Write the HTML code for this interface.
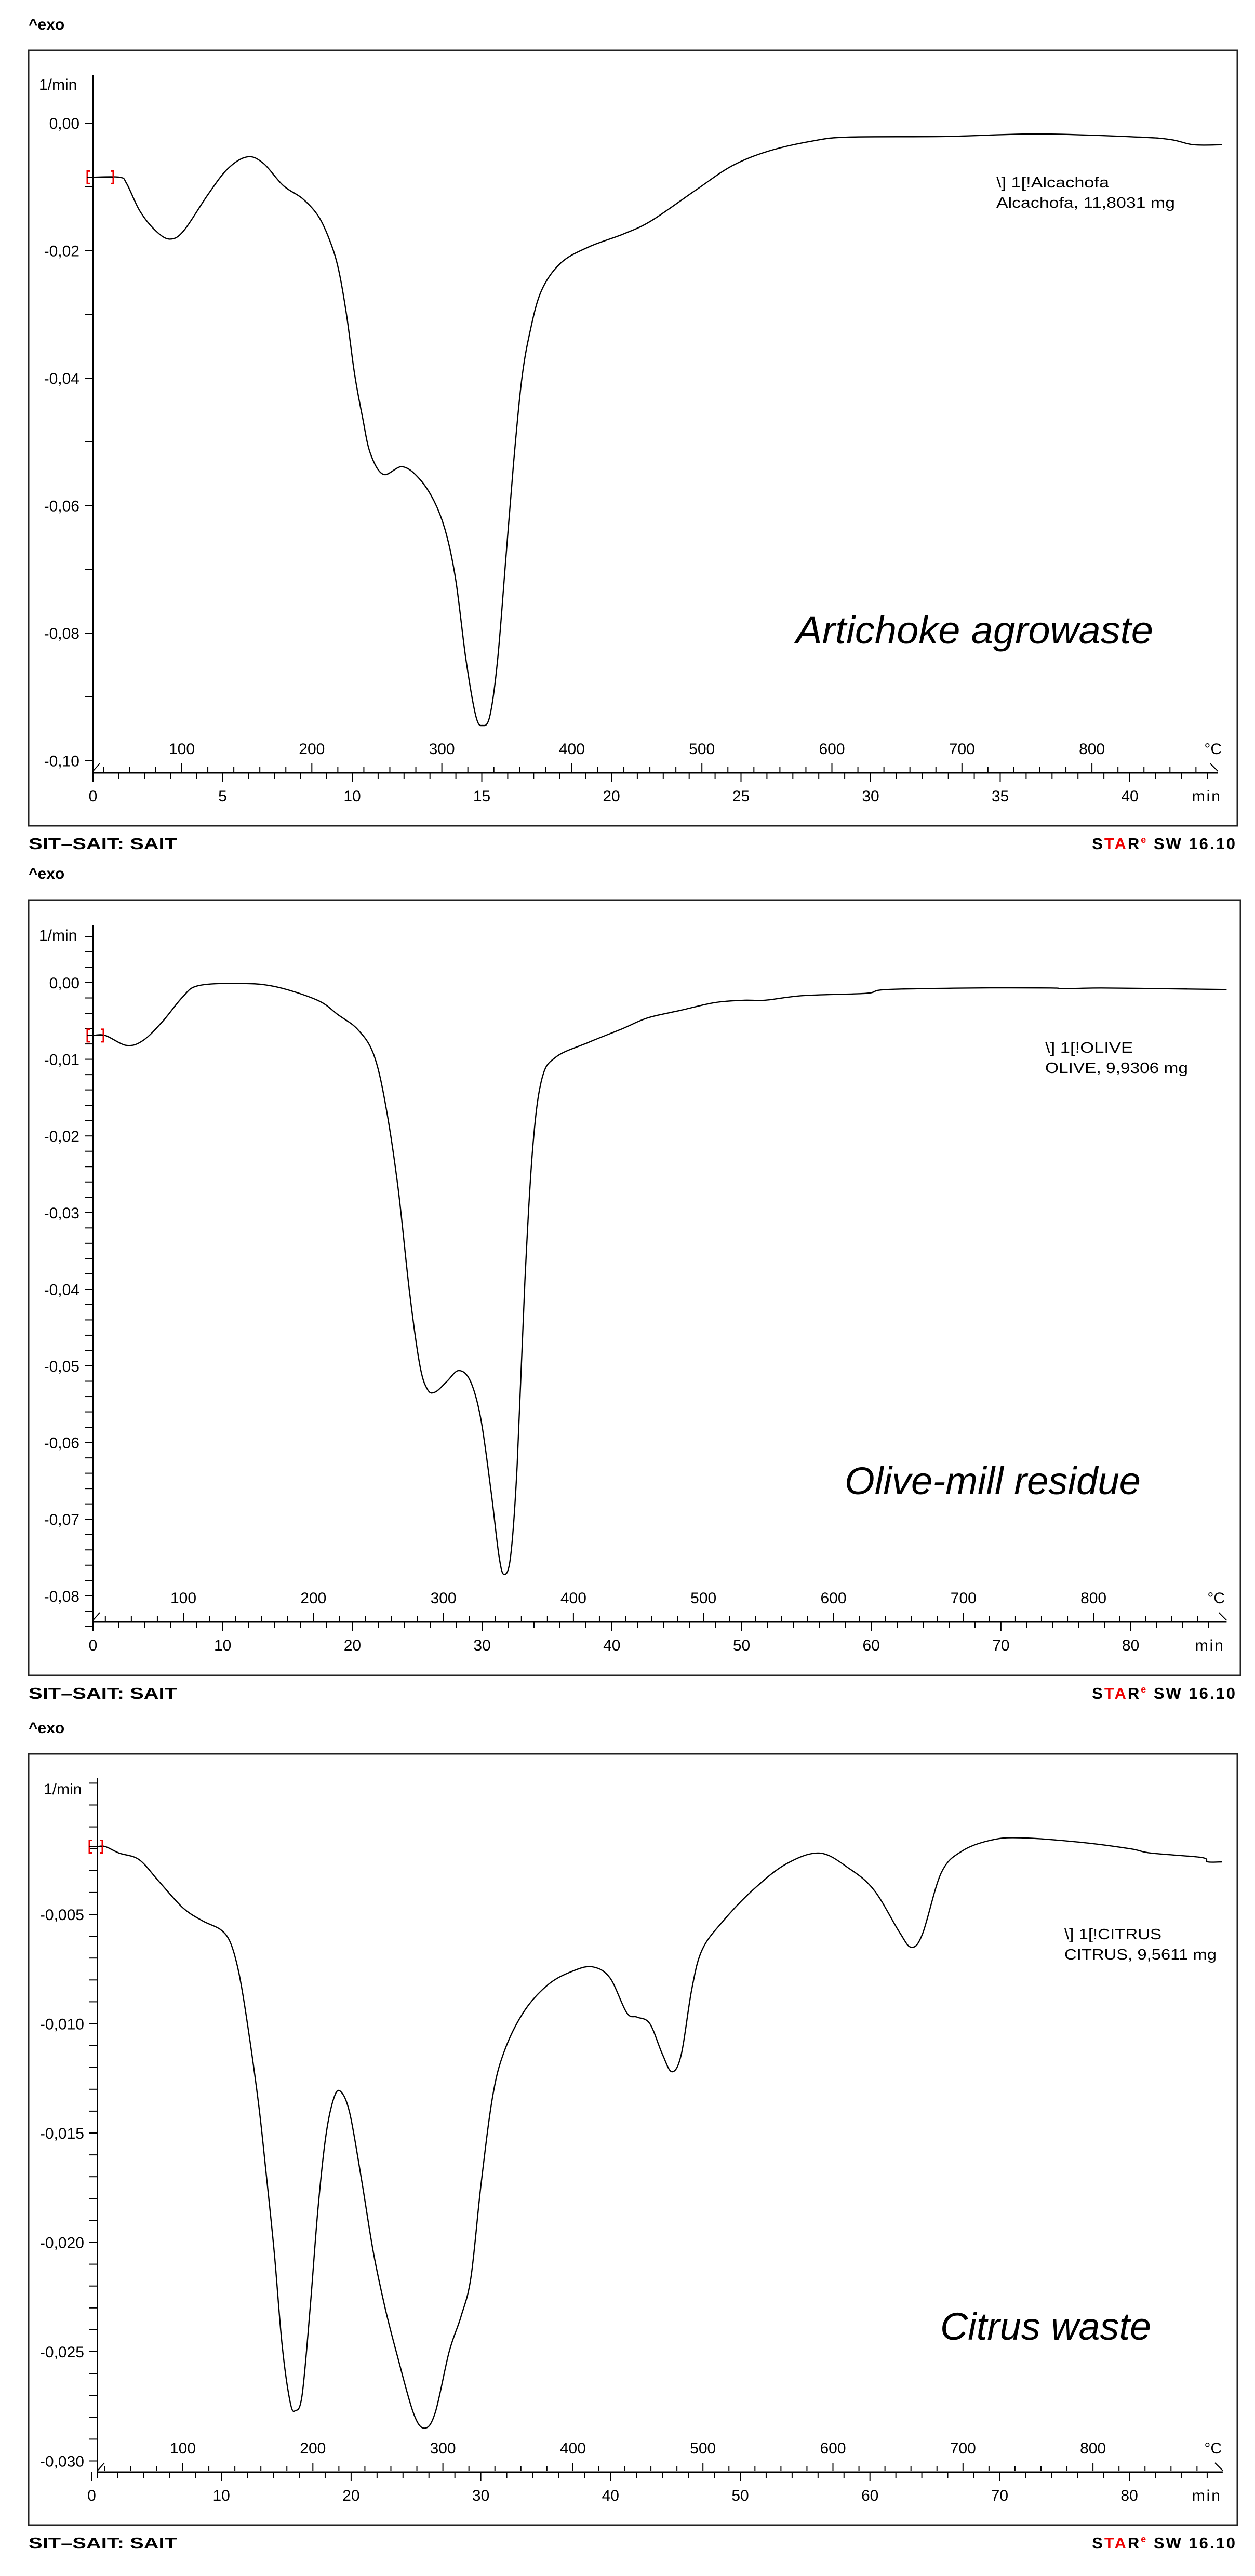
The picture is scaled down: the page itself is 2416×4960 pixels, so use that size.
<!DOCTYPE html>
<html><head><meta charset="utf-8"><title>DTG curves</title>
<style>
html,body{margin:0;padding:0;background:#fff;}
svg{display:block;font-family:"Liberation Sans",sans-serif;}
</style></head>
<body>
<svg id="root" xmlns="http://www.w3.org/2000/svg" width="2416" height="4960" viewBox="0 0 2416 4960"></svg>
<script>
// ---------- Panel 1: Artichoke agrowaste ----------
const p1Minutes = [0,1.03,1.30,1.81,2.42,2.96,3.50,4.42,5.19,5.95,6.57,7.34,8.10,8.71,9.17,9.48,9.78,10.09,10.40,10.70,11.20,11.92,12.55,13.16,13.62,14.00,14.39,14.77,15.03,15.31,15.61,15.92,16.23,16.53,16.84,17.30,18.06,19.14,20.46,21.55,23.26,24.66,26.06,27.77,29.16,32.90,36.47,40.36,41.60,42.46,43.55];
const p1Values = [-0.0085,-0.0085,-0.0095,-0.0138,-0.0169,-0.0182,-0.0169,-0.0113,-0.0072,-0.0053,-0.0063,-0.0098,-0.0119,-0.0147,-0.0188,-0.0231,-0.0300,-0.0393,-0.0462,-0.0518,-0.0551,-0.0539,-0.0556,-0.0593,-0.0643,-0.0718,-0.0842,-0.0930,-0.0945,-0.0930,-0.0842,-0.0687,-0.0531,-0.0406,-0.0331,-0.0263,-0.0219,-0.0194,-0.0174,-0.0153,-0.0105,-0.0067,-0.0044,-0.0028,-0.0022,-0.0021,-0.0017,-0.0022,-0.0026,-0.0034,-0.0034];
const p1YLabels = [0,-0.02,-0.04,-0.06,-0.08,-0.10];
const p1MinLabels = [0,5,10,15,20,25,30,35,40];
const p1TempLabels = [100,200,300,400,500,600,700,800];

// ---------- Panel 2: Olive-mill residue ----------
const p2Minutes = [0,0.95,2.6,3.9,5.4,6.9,8.1,11.2,14.0,17.3,18.9,20.4,21.6,22.5,23.5,24.4,25.2,25.8,26.4,27.3,28.2,29.1,29.9,30.7,31.3,31.7,32.2,32.7,33.3,33.9,34.6,35.7,38.2,40.83,42.77,45.35,47.94,50.20,51.82,54.73,59.58,61.20,67.99,73.81,74.79,77.71,82.88,87.4];
const p2Values = [-0.0069,-0.0069,-0.0082,-0.0075,-0.0050,-0.0019,-0.0004,-0.0001,-0.0005,-0.0023,-0.0042,-0.0061,-0.0092,-0.0154,-0.0265,-0.0403,-0.0499,-0.0531,-0.0534,-0.0520,-0.0506,-0.0520,-0.0569,-0.0665,-0.0748,-0.0772,-0.0748,-0.0631,-0.0389,-0.0216,-0.0126,-0.0097,-0.0078,-0.0060,-0.0046,-0.0036,-0.0026,-0.0023,-0.0023,-0.0017,-0.0014,-0.0009,-0.0007,-0.0007,-0.0008,-0.0007,-0.0008,-0.0009];
const p2YLabels = [0,-0.01,-0.02,-0.03,-0.04,-0.05,-0.06,-0.07,-0.08];
const p2MinLabels = [0,10,20,30,40,50,60,70,80];
const p2TempLabels = [100,200,300,400,500,600,700,800];

// ---------- Panel 3: Citrus waste ----------
const p3Minutes = [0.47,1.05,2.12,3.66,5.19,7.03,8.55,9.94,10.70,11.32,11.93,12.85,13.46,14.08,14.68,15.30,15.70,16.22,16.83,17.44,18.06,18.67,19.19,19.90,20.82,21.73,22.66,23.57,24.80,25.65,26.48,27.56,28.47,29.24,30.01,30.92,31.85,33.38,35.22,37.06,38.59,39.95,41.25,42.06,43.03,44.0,44.74,45.46,46.27,47.08,48.69,50.95,53.53,56.13,58.39,60.33,62.26,63.18,64.05,65.5,67.12,69.38,71.65,76.17,80.05,81.67,85.55,86.04,87.16];
const p3Values = [-0.0019,-0.0019,-0.0022,-0.0025,-0.0035,-0.0047,-0.0053,-0.0057,-0.0063,-0.0076,-0.0097,-0.0136,-0.0169,-0.0205,-0.0247,-0.0273,-0.0277,-0.0270,-0.0231,-0.0185,-0.0151,-0.0134,-0.0131,-0.0141,-0.0172,-0.0205,-0.0231,-0.0252,-0.0278,-0.0285,-0.0278,-0.0250,-0.0234,-0.0216,-0.0174,-0.0133,-0.0112,-0.0094,-0.0082,-0.0076,-0.0074,-0.0079,-0.0095,-0.0097,-0.0100,-0.0114,-0.0122,-0.0114,-0.0084,-0.0066,-0.0053,-0.0039,-0.0027,-0.0022,-0.0029,-0.0039,-0.0058,-0.0065,-0.0059,-0.0031,-0.0021,-0.0016,-0.0015,-0.0017,-0.0020,-0.0022,-0.0024,-0.0026,-0.0026];
const p3YLabels = [-0.005,-0.010,-0.015,-0.020,-0.025,-0.030];
const p3MinLabels = [0,10,20,30,40,50,60,70,80];
const p3TempLabels = [100,200,300,400,500,600,700,800];

const NS = "http://www.w3.org/2000/svg";
const root = document.getElementById('root');
function mk(tag, attrs, parent) {
  const el = document.createElementNS(NS, tag);
  for (const k in attrs) el.setAttribute(k, attrs[k]);
  (parent || root).appendChild(el);
  return el;
}
function smoothPath(pts) {
  let d = "M" + pts[0][0].toFixed(1) + "," + pts[0][1].toFixed(1);
  for (let i = 0; i < pts.length - 1; i++) {
    const p0 = pts[Math.max(0, i - 1)], p1 = pts[i], p2 = pts[i + 1], p3 = pts[Math.min(pts.length - 1, i + 2)];
    const c1x = p1[0] + (p2[0] - p0[0]) / 6, c1y = p1[1] + (p2[1] - p0[1]) / 6;
    const c2x = p2[0] - (p3[0] - p1[0]) / 6, c2y = p2[1] - (p3[1] - p1[1]) / 6;
    d += " C" + c1x.toFixed(1) + "," + c1y.toFixed(1) + " " + c2x.toFixed(1) + "," + c2y.toFixed(1) + " " + p2[0].toFixed(1) + "," + p2[1].toFixed(1);
  }
  return d;
}

function drawPanel(cfg) {
  const g = mk('g', {});
  
  
  const xOf = m => cfg.x0 + m * cfg.pxPerMin;
  const yOf = v => cfg.yZero - v * cfg.pxPerUnit;
  const tOf = t => cfg.t100 + (t - 100) * 2.503;

  const exo = mk('text', {x: 55, y: cfg.exoY, 'font-size': 30, 'font-weight': 'bold'}, g);
  exo.textContent = '^exo';
  
  

  const frame = mk('rect', {x: 55, y: cfg.top, width: cfg.right - 55, height: cfg.bottom - cfg.top, fill: 'none', stroke: '#222', 'stroke-width': 3}, g);
  
  

  const yax = mk('line', {x1: cfg.axisX, y1: cfg.axisTop, x2: cfg.axisX, y2: cfg.baseline + 12, stroke: '#000', 'stroke-width': 2}, g);
  
  
  const nT = Math.round((cfg.tickMax - cfg.tickMin) / cfg.tickStep);
  for (let i = 0; i <= nT; i++) {
    const v = cfg.tickMax - i * cfg.tickStep;
    const t = mk('line', {x1: cfg.axisX - 16, y1: yOf(v), x2: cfg.axisX, y2: yOf(v), stroke: '#000', 'stroke-width': 2}, g);
    
    
  }
  cfg.yLabels.forEach(v => {
    const t = mk('text', {x: cfg.axisX - 26, y: yOf(v) + 11, 'font-size': 30, 'text-anchor': 'end'}, g);
    t.textContent = v.toFixed(cfg.dec).replace('.', ',').replace('-0,' + '0'.repeat(cfg.dec), '0,' + '0'.repeat(cfg.dec));
    
    
  });
  const unit = mk('text', {x: cfg.unitX, y: cfg.unitY, 'font-size': 30}, g);
  unit.textContent = '1/min';
  
  

  const bl = cfg.baseline;
  const endX = xOf(cfg.minEnd);
  const base = mk('line', {x1: cfg.axisX, y1: bl, x2: endX, y2: bl, stroke: '#000', 'stroke-width': 3}, g);
  
  
  for (let m = 0; m <= cfg.minEnd; m += cfg.minMinor) {
    const major = Math.abs(m / cfg.minMajor - Math.round(m / cfg.minMajor)) < 1e-6;
    const t = mk('line', {x1: xOf(m), y1: bl, x2: xOf(m), y2: bl + (major ? 18 : 12), stroke: '#000', 'stroke-width': 2}, g);
    
    
  }
  cfg.minLabels.forEach(m => {
    const t = mk('text', {x: xOf(m), y: bl + 55, 'font-size': 30, 'text-anchor': 'middle'}, g);
    t.textContent = String(m);
    
    
  });
  const minU = mk('text', {x: cfg.right - 30, y: bl + 55, 'font-size': 30, 'text-anchor': 'end', 'letter-spacing': 3}, g);
  minU.textContent = 'min';
  
  

  const tEnd = Math.floor((endX - 15 - cfg.t100) / 2.503 + 100);
  for (let T = 40; T <= tEnd; T += 20) {
    const major = T % 100 === 0;
    const t = mk('line', {x1: tOf(T), y1: bl - 2, x2: tOf(T), y2: bl - (major ? 18 : 12), stroke: '#000', 'stroke-width': 2}, g);
    
    
  }
  cfg.tempLabels.forEach(T => {
    const t = mk('text', {x: tOf(T), y: bl - 36, 'font-size': 30, 'text-anchor': 'middle'}, g);
    t.textContent = String(T);
    
    
  });
  const cu = mk('text', {x: cfg.right - 30, y: bl - 36, 'font-size': 30, 'text-anchor': 'end'}, g);
  cu.textContent = '°C';
  
  
  const s1 = mk('line', {x1: cfg.axisX - 1, y1: bl - 2, x2: cfg.axisX + 13, y2: bl - 18, stroke: '#000', 'stroke-width': 2}, g);
  
  
  const s2 = mk('line', {x1: endX - 15, y1: bl - 18, x2: endX, y2: bl - 3, stroke: '#000', 'stroke-width': 2}, g);
  
  

  const pts = cfg.mins.map((m, i) => [xOf(m), yOf(cfg.vals[i])]);
  const curve = mk('path', {d: smoothPath(pts), fill: 'none', stroke: '#000', 'stroke-width': 2.4}, g);
  
  

  const by = yOf(cfg.vals[0]);
  const bk = mk('path', {d: 'M' + (cfg.b1 + 5) + ',' + (by - 12) + ' h-5 v24 h5 M' + (cfg.b2 - 5) + ',' + (by - 12) + ' h5 v24 h-5', fill: 'none', stroke: '#e00', 'stroke-width': 3}, g);
  
  
  const bl2 = mk('line', {x1: cfg.b1, y1: by, x2: cfg.b2, y2: by, stroke: '#000', 'stroke-width': 2}, g);
  
  

  const l1 = mk('text', {x: cfg.legX, y: cfg.legY, 'font-size': 29, textLength: cfg.leg1W, lengthAdjust: 'spacingAndGlyphs'}, g);
  l1.textContent = cfg.leg1;
  
  
  const l2 = mk('text', {x: cfg.legX, y: cfg.legY + 39, 'font-size': 29, textLength: cfg.leg2W, lengthAdjust: 'spacingAndGlyphs'}, g);
  l2.textContent = cfg.leg2;
  
  

  const ti = mk('text', {x: cfg.titleX, y: cfg.titleY, 'font-size': 74, 'font-style': 'italic', textLength: cfg.titleW, lengthAdjust: 'spacingAndGlyphs'}, g);
  ti.textContent = cfg.title;
  
  

  const fy = cfg.bottom + 45;
  const f1 = mk('text', {x: 55, y: fy, 'font-size': 31, 'font-weight': 'bold', textLength: 286, lengthAdjust: 'spacingAndGlyphs'}, g);
  f1.textContent = 'SIT–SAIT: SAIT';
  
  
  const f2 = mk('text', {x: 2381, y: fy, 'font-size': 31, 'font-weight': 'bold', 'text-anchor': 'end', 'letter-spacing': 3}, g);
  
  
  const parts = [['S', '#000', 31, 0], ['TA', '#e00', 31, 0], ['R', '#000', 31, 0], ['e', '#e00', 18, -12], [' SW 16.10', '#000', 31, 12]];
  parts.forEach(p => {
    const ts = mk('tspan', {fill: p[1], 'font-size': p[2], dy: p[3]}, f2);
    ts.textContent = p[0];
  });
}

drawPanel({name: 'panel-artichoke', exoY: 57, top: 97, bottom: 1590, right: 2382,
  axisX: 179, axisTop: 144, x0: 179, pxPerMin: 49.9, yZero: 237, pxPerUnit: 12275,
  tickMax: 0, tickMin: -0.10, tickStep: 0.01, yLabels: p1YLabels, dec: 2,
  unitX: 75, unitY: 173, baseline: 1488, minEnd: 43.4, minMinor: 1, minMajor: 5,
  minLabels: p1MinLabels, tempLabels: p1TempLabels, t100: 350,
  mins: p1Minutes, vals: p1Values, b1: 168, b2: 218,
  legX: 1918, legY: 361, leg1: '\\] 1[!Alcachofa', leg2: 'Alcachofa, 11,8031 mg', leg1W: 217, leg2W: 344,
  title: 'Artichoke agrowaste', titleX: 1532, titleY: 1239, titleW: 688});

drawPanel({name: 'panel-olive', exoY: 1692, top: 1733, bottom: 3226, right: 2388,
  axisX: 179, axisTop: 1781, x0: 179, pxPerMin: 24.97, yZero: 1892, pxPerUnit: 14760,
  tickMax: 0.006, tickMin: -0.084, tickStep: 0.002, yLabels: p2YLabels, dec: 2,
  unitX: 75, unitY: 1811, baseline: 3123, minEnd: 87.4, minMinor: 2, minMajor: 10,
  minLabels: p2MinLabels, tempLabels: p2TempLabels, t100: 353,
  mins: p2Minutes, vals: p2Values, b1: 168, b2: 199,
  legX: 2012, legY: 2027, leg1: '\\] 1[!OLIVE', leg2: 'OLIVE, 9,9306 mg', leg1W: 169, leg2W: 275,
  title: 'Olive-mill residue', titleX: 1626, titleY: 2877, titleW: 570});

drawPanel({name: 'panel-citrus', exoY: 3337, top: 3377, bottom: 4862, right: 2382,
  axisX: 188, axisTop: 3424, x0: 176.5, pxPerMin: 24.97, yZero: 3475.5, pxPerUnit: 42100,
  tickMax: 0.001, tickMin: -0.030, tickStep: 0.001, yLabels: p3YLabels, dec: 3,
  unitX: 84, unitY: 3455, baseline: 4760, minEnd: 87.2, minMinor: 2, minMajor: 10,
  minLabels: p3MinLabels, tempLabels: p3TempLabels, t100: 352,
  mins: p3Minutes, vals: p3Values, b1: 172, b2: 197,
  legX: 2049, legY: 3734, leg1: '\\] 1[!CITRUS', leg2: 'CITRUS, 9,5611 mg', leg1W: 187, leg2W: 293,
  title: 'Citrus waste', titleX: 1810, titleY: 4505, titleW: 406});
</script>
</body></html>
